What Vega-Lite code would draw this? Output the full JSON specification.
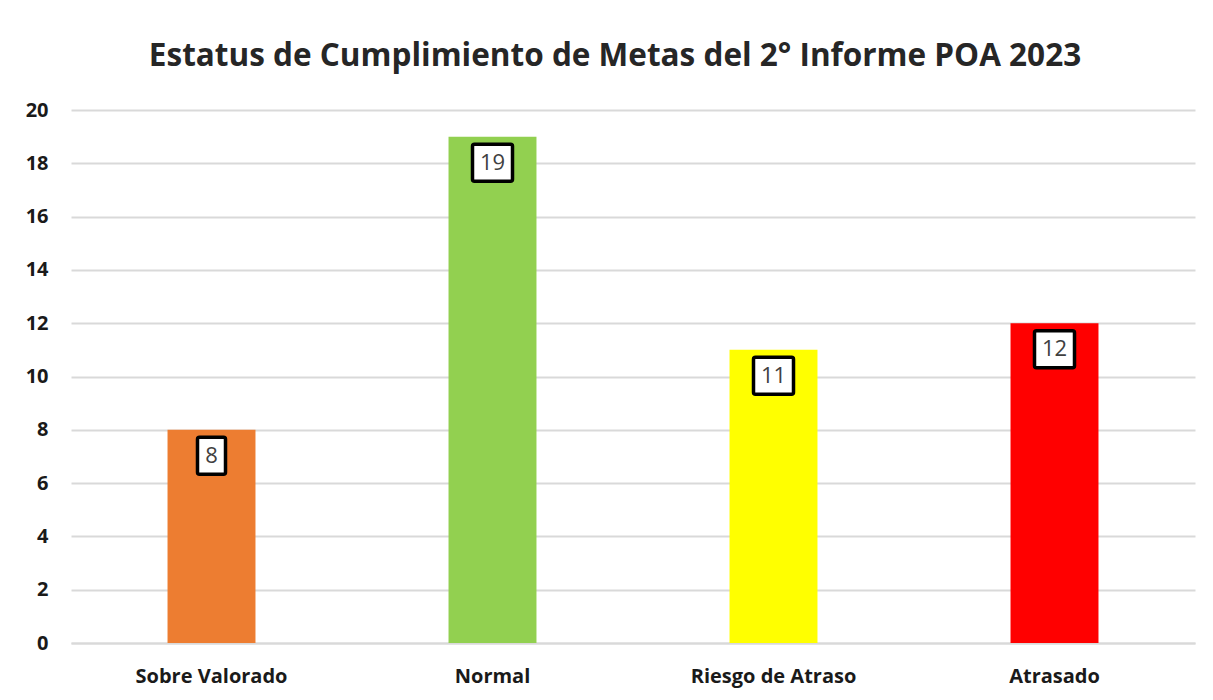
{
  "$schema": "https://vega.github.io/schema/vega-lite/v6.json",
  "width": 1124,
  "height": 533,
  "autosize": "none",
  "padding": {"left": 71, "top": 110, "right": 18, "bottom": 57},
  "background": "white",
  "config": {"view": {"stroke": null}},
  "title": {
    "text": "Estatus de Cumplimiento de Metas del 2° Informe POA 2023",
    "font": "Open Sans",
    "fontWeight": "bold",
    "fontSize": 31.5,
    "color": "#262626",
    "anchor": "middle",
    "dx": -18,
    "offset": 28
  },
  "data": {
    "values": [
      {"estatus": "Sobre Valorado", "metas": 8},
      {"estatus": "Normal", "metas": 19},
      {"estatus": "Riesgo de Atraso", "metas": 11},
      {"estatus": "Atrasado", "metas": 12}
    ]
  },
  "encoding": {
    "x": {
      "field": "estatus",
      "type": "nominal",
      "sort": null,
      "title": null,
      "scale": {"paddingInner": 0.687, "paddingOuter": 0.3435},
      "axis": {
        "labelAngle": 0,
        "labelFont": "Open Sans",
        "labelFontWeight": "bold",
        "labelFontSize": 20,
        "labelColor": "#1a1a1a",
        "labelPadding": 23,
        "ticks": false,
        "domainColor": "#d9d9d9",
        "domainWidth": 2
      }
    }
  },
  "layer": [
    {
      "mark": {"type": "bar"},
      "encoding": {
        "y": {
          "field": "metas",
          "type": "quantitative",
          "title": null,
          "scale": {"domain": [0, 20]},
          "axis": {
            "values": [0, 2, 4, 6, 8, 10, 12, 14, 16, 18, 20],
            "labelFont": "Open Sans",
            "labelFontWeight": "bold",
            "labelFontSize": 20,
            "labelColor": "#1a1a1a",
            "labelPadding": 23,
            "ticks": false,
            "domain": false,
            "gridColor": "#d9d9d9",
            "gridWidth": 2
          }
        },
        "color": {
          "field": "estatus",
          "type": "nominal",
          "legend": null,
          "scale": {
            "domain": ["Sobre Valorado", "Normal", "Riesgo de Atraso", "Atrasado"],
            "range": ["#ED7D31", "#92D050", "#FFFF00", "#FF0000"]
          }
        }
      }
    },
    {
      "transform": [{"filter": "datum.metas >= 10"}],
      "mark": {"type": "bar", "width": 40, "fill": "white", "stroke": "black", "strokeWidth": 3.5, "cornerRadius": 2, "yOffset": 7.5, "y2Offset": 44.5},
      "encoding": {
        "y": {"field": "metas", "type": "quantitative"},
        "y2": {"field": "metas"}
      }
    },
    {
      "transform": [{"filter": "datum.metas < 10"}],
      "mark": {"type": "bar", "width": 28, "fill": "white", "stroke": "black", "strokeWidth": 3.5, "cornerRadius": 2, "yOffset": 7.5, "y2Offset": 44.5},
      "encoding": {
        "y": {"field": "metas", "type": "quantitative"},
        "y2": {"field": "metas"}
      }
    },
    {
      "mark": {"type": "text", "font": "Open Sans", "fontSize": 22, "color": "#404040", "baseline": "middle", "align": "center", "yOffset": 26},
      "encoding": {
        "y": {"field": "metas", "type": "quantitative"},
        "text": {"field": "metas", "type": "quantitative"}
      }
    }
  ]
}
